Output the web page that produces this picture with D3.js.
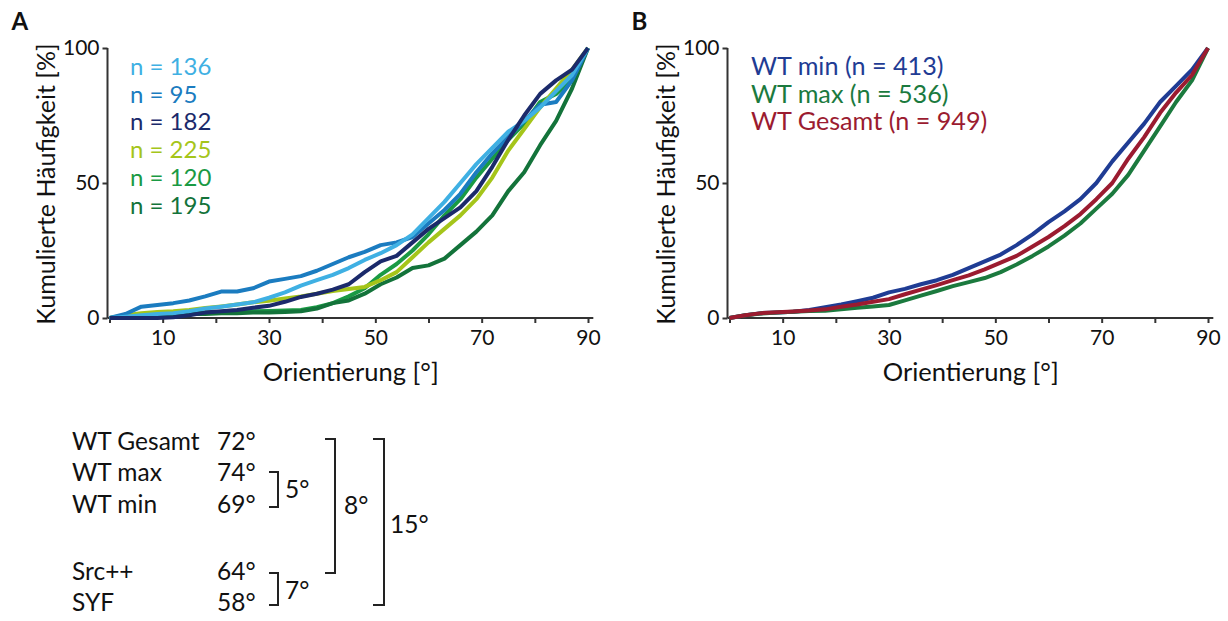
<!DOCTYPE html>
<html>
<head>
<meta charset="utf-8">
<script src="https://cdn.jsdelivr.net/npm/d3@7"></script>
<style>
  body { margin: 0; background: #fff; }
  svg { display: block; font-family: Lato, "Open Sans", sans-serif; }
</style>
</head>
<body>
<svg id="chart" width="1228" height="621"></svg>
<script>
// --- data ---
const orient = [0,3,6,9,12,15,18,21,24,27,30,33,36,39,42,45,48,51,54,57,60,63,66,69,72,75,78,81,84,87,90];

// panel A: cumulative frequency [%] per group
const n136 = [0,0.5,1,1.5,1.8,2.5,3.5,4.2,5,5.8,7.5,9.5,12,14,16,18.5,21.5,24,27,31,37,43,50,57,63,69,73,78,84,90,100];
const n95  = [0,1.5,4.2,4.8,5.5,6.5,8,9.8,9.8,11,13.5,14.5,15.5,17.5,20,22.5,24.5,27,28,30,35,40,46,54,61,67,73,79,80,88,100];
const n182 = [0,0,0,0,0.3,1,2,2.5,3,3.8,4.5,6,7.8,9,10.5,12.5,17,21,23,28,33,37,41,47,56,66,75,83,88,92,100];
const n225 = [0,1,1.8,2.2,2.5,3,3.7,4.3,5,5.8,6.4,7.2,8,9,10,10.7,11.5,14,17,22.5,28,33,38,44,52,62,70,78,85,92,100];
const n120 = [0,0.5,1,1.2,1.5,1.8,2,2.2,2.5,2.5,2.6,2.8,3,4,5.5,8,11,16,20,25,31,38,44,52,59,66,72,80,83,88,100];
const n195 = [0,0.5,1,1,1.2,1.5,1.5,1.8,1.8,2,2,2.2,2.5,3.5,5.5,6.5,9,12.5,15,18.5,19.5,22,27,32,38,47,54,64,73,85,100];

// panel B
const wtMin    = [0,1,1.8,2,2.3,3,4,5,6.2,7.5,9.5,10.8,12.5,14,16,18.5,21,23.5,27,31,35.5,39.5,44,50,58,65,72,80,86,92,100];
const wtMax    = [0,1,1.7,2,2.3,2.6,2.7,3.2,3.8,4.3,4.8,6.5,8.3,10,11.8,13.3,14.8,17,19.8,23,26.5,30.5,35,40.5,46,53,62,71,80,88,100];
const wtGesamt = [0,1,1.8,2.1,2.4,2.8,3.2,4.2,5,6,7,8.8,10.5,12.2,14,15.8,18,20.5,23,26.5,30,34,38.5,44,50,59,67,76,83.5,90,100];

const seriesA = [
  { label: "n = 136", values: n136, color: "#3fb0e3" },
  { label: "n = 95",  values: n95,  color: "#1b7cc0" },
  { label: "n = 182", values: n182, color: "#1b2a6b" },
  { label: "n = 225", values: n225, color: "#a5c51a" },
  { label: "n = 120", values: n120, color: "#1a9a44" },
  { label: "n = 195", values: n195, color: "#13733a" },
];
const drawOrderA = [4, 5, 3, 1, 0, 2];

const seriesB = [
  { label: "WT min (n = 413)",    values: wtMin,    color: "#1f3c94" },
  { label: "WT max (n = 536)",    values: wtMax,    color: "#1b7a3e" },
  { label: "WT Gesamt (n = 949)", values: wtGesamt, color: "#9b1b30" },
];
const drawOrderB = [0, 1, 2];

const tableRows = [
  ["WT Gesamt", "72°"],
  ["WT max", "74°"],
  ["WT min", "69°"],
  ["Src++", "64°"],
  ["SYF", "58°"],
];

const svg = d3.select("#chart");
const axisColor = "#333";

function drawPanel(x0, letter, series, order, legendX, legendSize) {
  const x = d3.scaleLinear().domain([0, 90]).range([x0, x0 + 478.5]);
  const y = d3.scaleLinear().domain([0, 100]).range([318, 48]);
  const g = svg.append("g");

  // panel letter
  g.append("text").attr("x", x0 - 98).attr("y", 30)
    .attr("font-size", 24).attr("font-weight", "bold").attr("fill", "#111")
    .text(letter);

  // x axis
  const xa = g.append("g").attr("transform", "translate(0,318)")
    .call(d3.axisBottom(x).tickValues(d3.range(0, 91, 10)).tickSize(5).tickPadding(7)
      .tickFormat(d => (d % 20 === 10 ? d : "")));
  xa.select(".domain").attr("d", `M${x0 - 2},0H${x(91)}`);
  // y axis
  const ya = g.append("g").attr("transform", `translate(${x0 - 2},0)`)
    .call(d3.axisLeft(y).tickValues([0, 50, 100]).tickSize(5).tickPadding(3));
  ya.select(".domain").attr("d", `M0,${y(100)}V${y(0)}`);

  g.selectAll(".domain").attr("stroke", axisColor).attr("stroke-width", 2);
  g.selectAll(".tick line").attr("stroke", axisColor).attr("stroke-width", 2);
  g.selectAll(".tick text").attr("font-size", 21).attr("fill", "#111")
    .attr("font-family", "Lato, 'Open Sans', sans-serif");

  // titles
  g.append("text").attr("x", (x(0) + x(90)) / 2 + 2).attr("y", 381)
    .attr("text-anchor", "middle").attr("font-size", 25.5).attr("fill", "#111")
    .text("Orientierung [°]");
  g.append("text").attr("transform", `translate(${x0 - 55},184) rotate(-90)`)
    .attr("text-anchor", "middle").attr("font-size", 25).attr("fill", "#111")
    .text("Kumulierte Häufigkeit [%]");

  // curves
  const line = d3.line().x((d, i) => x(orient[i])).y(d => y(d));
  order.forEach(i => {
    g.append("path").datum(series[i].values)
      .attr("fill", "none").attr("stroke", series[i].color)
      .attr("stroke-width", 4).attr("stroke-linejoin", "round")
      .attr("d", line);
  });

  // legend
  g.selectAll(".leg").data(series).join("text")
    .attr("x", legendX).attr("y", (d, i) => 75 + i * 27.7)
    .attr("font-size", legendSize).attr("fill", d => d.color)
    .text(d => d.label);
}

drawPanel(109.5, "A", seriesA, drawOrderA, 130, 24);
drawPanel(729.5, "B", seriesB, drawOrderB, 751, 25.2);

// --- median table ---
const rowY = [450, 481, 513, 580, 611];
const tbl = svg.append("g").attr("font-size", 24.5).attr("fill", "#111");
tableRows.forEach((r, i) => {
  tbl.append("text").attr("x", 72).attr("y", rowY[i]).text(r[0]);
  tbl.append("text").attr("x", 217).attr("y", rowY[i]).text(r[1]);
});

const brackets = [
  { top: 472, bottom: 507, x1: 269, x2: 278, label: "5°", lx: 285, ly: 498 },
  { top: 573, bottom: 605, x1: 269, x2: 278, label: "7°", lx: 285, ly: 599 },
  { top: 439, bottom: 573, x1: 325, x2: 335, label: "8°", lx: 344, ly: 514 },
  { top: 439, bottom: 605, x1: 373, x2: 384, label: "15°", lx: 390, ly: 533 },
];
brackets.forEach(b => {
  svg.append("path")
    .attr("d", `M${b.x1},${b.top}H${b.x2}V${b.bottom}H${b.x1}`)
    .attr("fill", "none").attr("stroke", "#222").attr("stroke-width", 2);
  svg.append("text").attr("x", b.lx).attr("y", b.ly)
    .attr("font-size", 24.5).attr("fill", "#111").text(b.label);
});
</script>
</body>
</html>
